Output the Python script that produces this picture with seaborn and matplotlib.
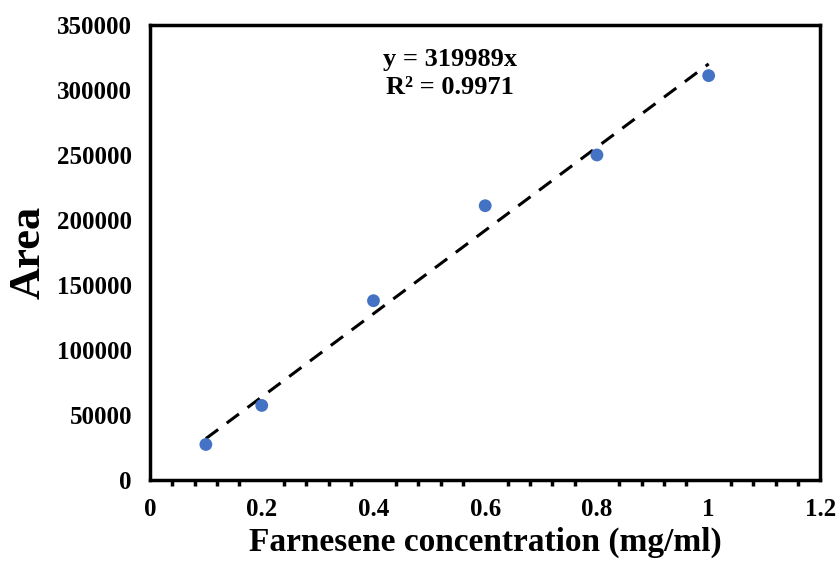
import numpy as np
import matplotlib
matplotlib.use("Agg")
import matplotlib.pyplot as plt
import seaborn as sns
import pandas as pd
from matplotlib.ticker import MultipleLocator

# Datos
concentracion = [0.1, 0.2, 0.4, 0.6, 0.8, 1.0]
area = [27500, 57500, 138000, 211000, 250000, 311000]
pendiente = 319989
r2 = 0.9971
etiquetas_x = ["0", "0.2", "0.4", "0.6", "0.8", "1", "1.2"]

df = pd.DataFrame({"conc": concentracion, "area": area})
df["ajuste"] = pendiente * df["conc"]

sns.set_style("white")
plt.rcParams["font.family"] = ["Liberation Serif", "DejaVu Serif"]
plt.rcParams["font.weight"] = "bold"
for clave in ["text.color", "axes.labelcolor", "xtick.color", "ytick.color"]:
    plt.rcParams[clave] = "black"

fig, ax = plt.subplots(figsize=(8.38, 5.65), dpi=100)
sns.lineplot(data=df, x="conc", y="ajuste", ax=ax, color="black",
             linestyle=(0, (5, 3.5)), linewidth=2.2)
sns.scatterplot(data=df, x="conc", y="area", ax=ax, color="#4472C4",
                s=85, edgecolor="none", zorder=3)

ax.set_xlim(0, 1.2)
ax.set_ylim(0, 350000)
ax.xaxis.set_minor_locator(MultipleLocator(0.04))
ax.yaxis.set_major_locator(MultipleLocator(50000))
ax.set_xticks(np.arange(0, 1.21, 0.2))
ax.set_xticklabels(etiquetas_x)
ax.tick_params(axis="both", which="major", direction="out", length=6,
               width=2.5, labelsize=18, color="black", pad=7)
ax.tick_params(axis="x", which="minor", direction="out", length=4,
               width=2.5, color="black", bottom=True)
for lab in ax.get_xticklabels() + ax.get_yticklabels():
    lab.set_fontweight("bold")

for sp in ax.spines.values():
    sp.set_color("black")
    sp.set_linewidth(2.5)

ax.set_xlabel("Farnesene concentration (mg/ml)", fontsize=24,
              fontweight="bold", labelpad=4)
ax.set_ylabel("Area", fontsize=32, fontweight="bold", labelpad=6)

ax.text(0.448, 0.893, f"y = {pendiente}x\nR² = {r2}", transform=ax.transAxes,
        ha="center", va="center", fontsize=19, fontweight="bold",
        linespacing=1.25)

plt.subplots_adjust(left=0.179, right=0.979, top=0.956, bottom=0.15)
plt.savefig("out.png", dpi=100)
plt.close()
